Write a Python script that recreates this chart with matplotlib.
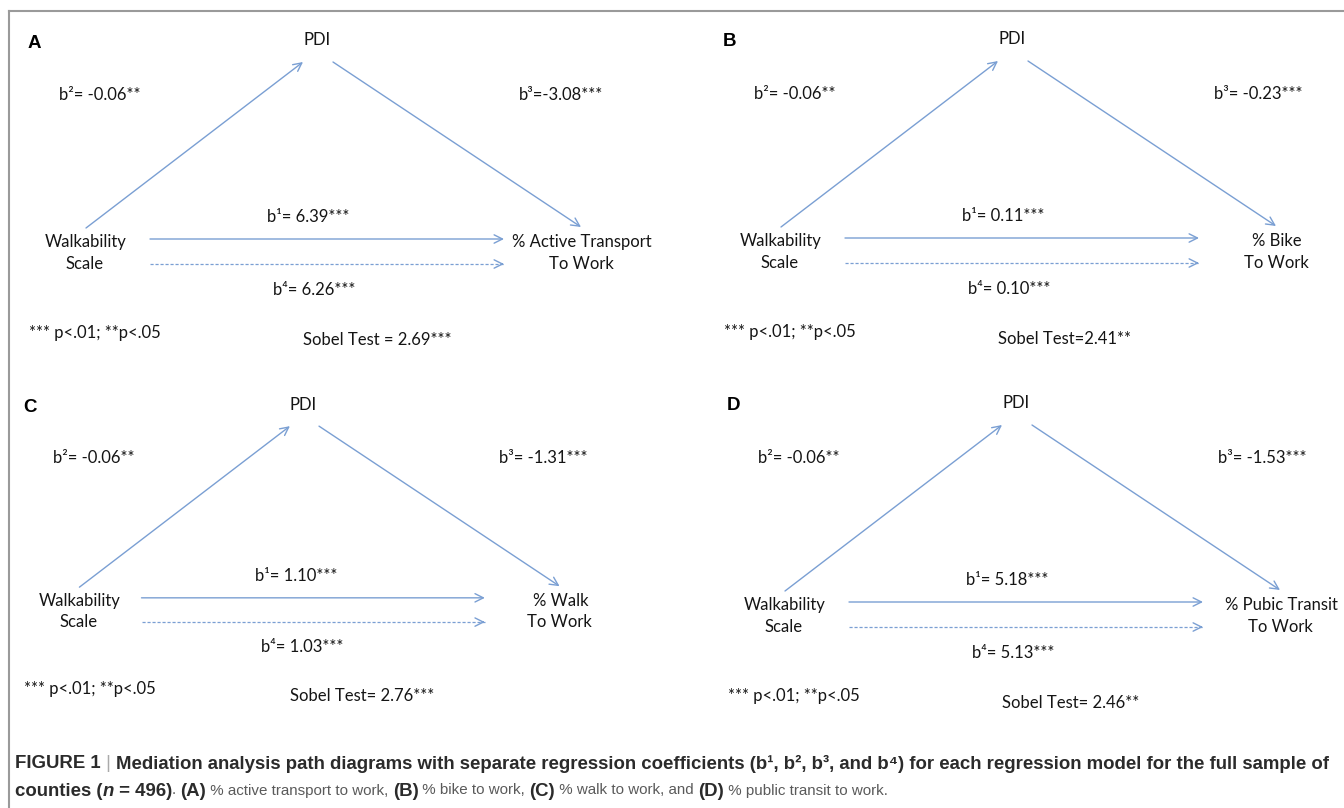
import matplotlib
matplotlib.use("Agg")
import matplotlib.pyplot as plt

# panel data
panels = ["A", "B", "C", "D"]
outcomes = [["% Active Transport", "To Work"], ["% Bike", "To Work"],
            ["% Walk", "To Work"], ["% Pubic Transit", "To Work"]]
b1_labels = ["b¹= 6.39***", "b¹= 0.11***", "b¹= 1.10***", "b¹= 5.18***"]
b2_labels = ["b²= -0.06**", "b²= -0.06**", "b²= -0.06**", "b²= -0.06**"]
b3_labels = ["b³=-3.08***", "b³= -0.23***", "b³= -1.31***", "b³= -1.53***"]
b4_labels = ["b⁴= 6.26***", "b⁴= 0.10***", "b⁴= 1.03***", "b⁴= 5.13***"]
sobel_labels = ["Sobel Test = 2.69***", "Sobel Test=2.41**", "Sobel Test= 2.76***", "Sobel Test= 2.46**"]
note = "*** p<.01; **p<.05"

# where each panel sits (x0, y0, scale) relative to panel A layout
offsets = [(0, 0, 1.0), (695, -1, 1.0), (-4, 366, 0.97), (699, 363, 1.0)]

W, H = 1344, 808
fig = plt.figure(figsize=(W / 100, H / 100), dpi=100)
ax = fig.add_axes([0, 0, 1, 1])
ax.set_xlim(0, W)
ax.set_ylim(H, 0)
ax.axis("off")

arrow_col = "#7a9fd3"
txt_col = "#151515"
dfont = ["Lato", "DejaVu Sans"]
fs = 12

# frame
ax.plot([9, 9], [11, H], color="#9a9a9a", lw=1.5)
ax.plot([9, W], [11, 11], color="#9a9a9a", lw=1.5)

head = "->,head_length=0.6,head_width=0.3"


def arrow(p0, p1, dashed=False):
    if dashed:
        ax.plot([p0[0], p1[0]], [p0[1], p1[1]], color=arrow_col, lw=0.9, ls=(0, (2.5, 1.5)))
        p0 = (p1[0] - 3, p1[1])
    ax.annotate("", xy=p1, xytext=p0,
                arrowprops=dict(arrowstyle=head, color=arrow_col, lw=1.0, shrinkA=0, shrinkB=0))


def label(xy, s, ha="left", **kw):
    ax.text(xy[0], xy[1], s, fontsize=fs, family=dfont, ha=ha, va="center", color=txt_col, **kw)


for i, p in enumerate(panels):
    x0, y0, s = offsets[i]
    P = lambda x, y: (x0 + s * x, y0 + s * y)

    ax.text(*P(28, 43), p, fontsize=13.5, fontweight="bold", family="Liberation Sans",
            ha="left", va="center", color="black")
    label(P(317, 40), "PDI", ha="center")

    arrow(P(86, 228), P(303, 62))
    arrow(P(333, 62), P(581, 227))
    arrow(P(150, 239), P(504, 239))
    arrow(P(150, 264), P(504, 264), dashed=True)

    label(P(59, 95), b2_labels[i])
    label(P(519, 95), b3_labels[i])
    label(P(267, 217), b1_labels[i])
    label(P(273, 290), b4_labels[i])

    label(P(86, 242), "Walkability", ha="center")
    label(P(85, 264), "Scale", ha="center")
    label(P(582, 242), outcomes[i][0], ha="center")
    label(P(581, 264), outcomes[i][1], ha="center")

    label(P(29, 333), note)
    label(P(303, 340), sobel_labels[i])

# caption, drawn run by run
renderer = fig.canvas.get_renderer()
bfont = ["Liberation Sans", "DejaVu Sans"]
rfont = ["Liberation Sans Narrow", "Liberation Sans", "DejaVu Sans"]
bold_col = "#2b2b2b"
reg_col = "#5a5a5a"

line1 = [
    ("FIGURE 1", "bold", "normal", bold_col),
    (" | ", "normal", "normal", "#aaaaaa"),
    ("Mediation analysis path diagrams with separate regression coefficients (b¹, b², b³, and b⁴) "
     "for each regression model for the full sample of", "bold", "normal", bold_col),
]
line2 = [
    ("counties (", "bold", "normal", bold_col),
    ("n", "bold", "italic", bold_col),
    (" = 496)", "bold", "normal", bold_col),
    (". ", "normal", "normal", reg_col),
    ("(A)", "bold", "normal", bold_col),
    (" % active transport to work, ", "normal", "normal", reg_col),
    ("(B)", "bold", "normal", bold_col),
    (" % bike to work, ", "normal", "normal", reg_col),
    ("(C)", "bold", "normal", bold_col),
    (" % walk to work, and ", "normal", "normal", reg_col),
    ("(D)", "bold", "normal", bold_col),
    (" % public transit to work.", "normal", "normal", reg_col),
]


def fam(weight):
    return bfont if weight == "bold" else rfont


def width(text, size, weight, style, family):
    t = ax.text(0, 0, text, fontsize=size, family=family, fontweight=weight, fontstyle=style)
    w = t.get_window_extent(renderer).width
    t.remove()
    return w


# fit the bold line to the frame width, the plain runs to the second line length
bsize = 10 * 1323 / sum(width(t, 10, w, s, bfont) for t, w, s, c in line1)
bold2 = sum(width(t, bsize, w, s, bfont) for t, w, s, c in line2 if w == "bold")
plain2 = sum(width(t, 10, w, s, rfont) for t, w, s, c in line2 if w != "bold")
rsize = 10 * (876 - bold2) / plain2


def runs(x, y, parts):
    for text, weight, style, color in parts:
        if weight == "bold" or text == " | ":
            size, family = bsize, bfont
        else:
            size, family = rsize, rfont
        t = ax.text(x, y, text, fontsize=size, family=family, fontweight=weight, fontstyle=style,
                    color=color, ha="left", va="center_baseline")
        x += t.get_window_extent(renderer).width


runs(15, 762, line1)
runs(15, 789, line2)

fig.savefig("out.png", dpi=100)
